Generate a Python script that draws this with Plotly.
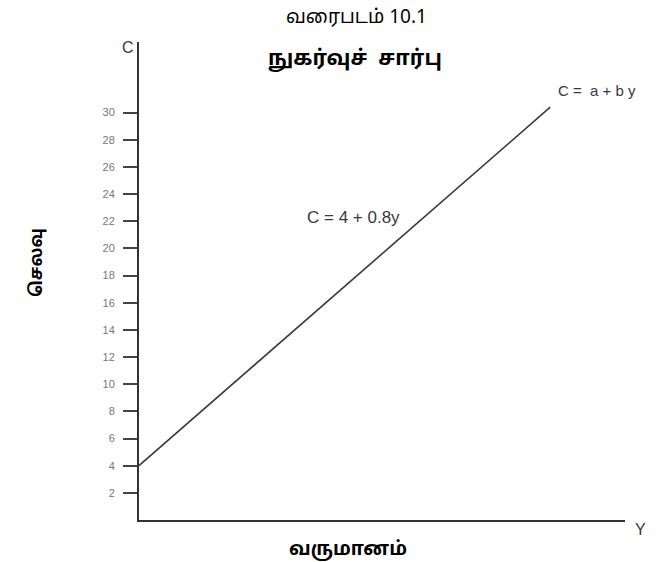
import plotly.graph_objects as go

# Consumption function C = a + b*y with a = 4, b = 0.8
intercept = 4
slope = 0.8
income = [0, 33]
consumption = [intercept + slope * v for v in income]
y_ticks = [2, 4, 6, 8, 10, 12, 14, 16, 18, 20, 22, 24, 26, 28, 30]

W, H = 659, 562
L, R, T, B = 139, 34, 42, 42
PW, PH = W - L - R, H - T - B


def px(x):
    return (x - L) / PW


def py(y):
    return (H - B - y) / PH


fig = go.Figure()
fig.add_trace(go.Scatter(
    x=income, y=consumption, mode="lines",
    line=dict(color="#3a3a3a", width=1.6),
    hoverinfo="skip", showlegend=False,
))

base_font = "Liberation Sans, Arial, sans-serif"
tamil_font = "Noto Sans Tamil, Latha, Noto Sans, Liberation Sans, sans-serif"


def note(text, x, y, size, family=base_font, color="#3a3a3a", angle=0):
    return dict(text=text, xref="paper", yref="paper", x=px(x), y=py(y),
                xanchor="center", yanchor="middle", showarrow=False, textangle=angle,
                font=dict(family=family, size=size, color=color))


fig.update_layout(
    width=W, height=H,
    margin=dict(l=L, r=R, t=T, b=B),
    paper_bgcolor="white", plot_bgcolor="white",
    showlegend=False,
    xaxis=dict(
        range=[0, 39.0], showgrid=False, zeroline=False,
        showline=True, linecolor="#333333", linewidth=2,
        showticklabels=False, ticks="",
    ),
    yaxis=dict(
        range=[0, 35.2], showgrid=False, zeroline=False,
        showline=True, linecolor="#333333", linewidth=2,
        tickmode="array", tickvals=y_ticks, ticktext=[str(t) for t in y_ticks],
        ticks="outside", ticklen=14, tickwidth=2.4, tickcolor="#444444",
        tickfont=dict(family=base_font, size=11, color="#777777"),
        ticklabelstandoff=6,
    ),
    font=dict(family=base_font, color="#222222"),
    annotations=[
        note("வரைபடம் 10.1", 356, 18, 19, tamil_font, "black"),
        note("<b>நுகர்வுச்  சார்பு</b>", 355, 60, 21, tamil_font, "black"),
        note("<b>செலவு</b>", 37, 263, 17, tamil_font, "black", -90),
        note("<b>வருமானம்</b>", 348, 550, 19, tamil_font, "black"),
        note("C", 128, 47, 16),
        note("Y", 640, 529, 16),
        note("C = 4 + 0.8y", 353, 217, 17),
        note("C =  a + b y", 597, 90, 15),
    ],
)

fig.write_html("out.html")
